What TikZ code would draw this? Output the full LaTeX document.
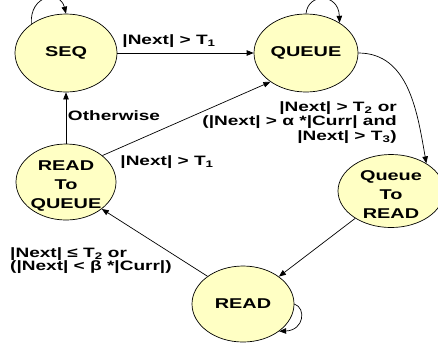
\documentclass[tikz,border=0pt]{standalone}
\usepackage{fontspec}
\setmainfont[FakeStretch=1.4]{Liberation Sans}
\usetikzlibrary{shapes.geometric,arrows.meta}
\definecolor{statefill}{RGB}{255,255,196}
\newcommand{\topstrut}{\rule{0pt}{17pt}}
\begin{document}
\begin{tikzpicture}[x=1pt,y=-1pt,
  state/.style={ellipse,draw=black,line width=0.7pt,fill=statefill,inner sep=0pt,
    minimum width=102pt,minimum height=78pt,
    font=\fontsize{14.2}{19}\selectfont\bfseries,align=center},
  lab/.style={font=\fontsize{13.6}{14.8}\selectfont\bfseries,inner sep=0pt},
  conn/.style={line width=0.7pt,-{Triangle[length=7pt,width=5.5pt]}}]
\useasboundingbox (0,0) rectangle (438,349);
\node[state] (seq) at (66,53) {SEQ};
\node[state,minimum width=104pt] (queue) at (306,53) {QUEUE};
\node[state,minimum width=100pt,minimum height=76pt,inner ysep=-4pt] (rtq) at (66,182) {\topstrut READ\\To\\QUEUE};
\node[state,minimum width=106pt,minimum height=73pt,inner ysep=-4pt] (qtr) at (391,191) {\topstrut Queue\\To\\READ};
\node[state,minimum height=76pt] (read) at (243,304) {READ};
% connectors
\draw[conn] (seq.east) -- (queue.west);
\draw[conn] (rtq.north) -- (seq.south);
\draw[conn] (rtq.36) -- (queue.219);
\draw[conn] (queue.east) to[out=0,in=100] (qtr.38);
\draw[conn] (qtr) -- (read);
\draw[conn] (read.142) -- (rtq.-37);
% self loops
\draw[conn] (seq.140) .. controls +(-2,-29) and +(-6,-24) .. (seq.90);
\draw[conn] (queue.90) .. controls +(2,-21) and +(-1,-30) .. (queue.42);
\draw[conn] (read.0) .. controls +(12,4) and +(25,-1) .. (read.-37);
% labels
\node[lab,anchor=base] (l1) at (169,44) {|Next| > T\textsubscript{1}};
\node[lab,anchor=base] (l2) at (114,120) {Otherwise};
\node[lab,anchor=base] (l3) at (167,165) {|Next| > T\textsubscript{1}};
\node[lab,anchor=north east,align=right] (l4) at (397,101)
  {|Next| > T\textsubscript{2} or\\(|Next| > α *|Curr| and\\|Next| > T\textsubscript{3})};
\node[lab,anchor=north west,align=left,font=\fontsize{13.6}{13.8}\selectfont\bfseries] (l5) at (10,247)
  {|Next| ≤ T\textsubscript{2} or\\(|Next| < β *|Curr|)};
\end{tikzpicture}
\end{document}
